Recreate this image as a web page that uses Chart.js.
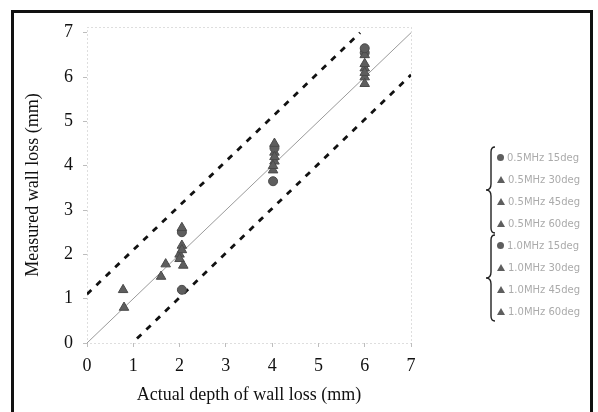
<!DOCTYPE html>
<html>
<head>
<meta charset="utf-8">
<script src="https://cdn.jsdelivr.net/npm/chart.js@4/dist/chart.umd.min.js"></script>
<style>
  html, body { margin: 0; padding: 0; background: #fff; }
  #wrap { position: relative; width: 598px; height: 412px; overflow: hidden; }
  #frame { position: absolute; left: 11px; top: 10px; width: 576px; height: 420px; border: 3px solid #111; border-bottom: none; }
  #chart { position: absolute; left: 0; top: 0; }
  #legend { position: absolute; left: 485px; top: 146px; width: 110px; }
  .grp { position: relative; padding-left: 12px; }
  .grp svg { position: absolute; left: 0; top: 0; }
  .row { height: 22px; display: flex; align-items: center; font: 10px "DejaVu Sans", sans-serif; color: #ababab; white-space: nowrap; }
  .mk { width: 8px; margin-right: 3px; display: inline-block; }
  .mk.c { height: 7px; width: 7px; border-radius: 50%; background: #5e5e5e; }
  .mk.t { width: 0; height: 0; border-left: 4px solid transparent; border-right: 4px solid transparent; border-bottom: 7px solid #5e5e5e; }
</style>
</head>
<body>
<div id="wrap">
  <canvas id="chart" width="598" height="412"></canvas>
  <div id="frame"></div>
  <div id="legend"></div>
</div>
<script>
/* measured vs actual wall loss — scatter with y=x and +/- band */
const INK = '#111', MARK = '#5e5e5e', FAINT = '#bdbdbd';

const xTicks = [0, 1, 2, 3, 4, 5, 6, 7];
const yTicks = [0, 1, 2, 3, 4, 5, 6, 7];

// reference lines (end points of each line, in mm)
const idealLine = [[0, 0], [7, 7]];
const upperBand = [[0, 1.1], [5.9, 7]];
const lowerBand = [[1.08, 0.1], [7, 6.05]];

// series labels (group 1 / group 2) and marker shape
const labels = [
  '0.5MHz  15deg', '0.5MHz  30deg', '0.5MHz  45deg', '0.5MHz  60deg',
  '1.0MHz  15deg', '1.0MHz  30deg', '1.0MHz  45deg', '1.0MHz  60deg'
];
const shapes = ['circle', 'triangle', 'triangle', 'triangle', 'circle', 'triangle', 'triangle', 'triangle'];

// measured points [actual, measured] per series
const s1 = [[2.05, 1.2], [4.02, 3.65], [6.0, 6.65]];
const s2 = [[0.8, 0.8], [2.05, 2.1], [4.05, 4.2], [6.0, 6.1]];
const s3 = [[0.78, 1.2], [1.6, 1.5], [2.05, 2.6], [4.05, 4.5], [6.0, 6.5]];
const s4 = [[1.7, 1.78], [2.0, 1.9], [4.02, 4.0], [6.0, 5.85]];
const s5 = [[2.05, 2.5], [4.05, 4.4], [6.0, 6.55]];
const s6 = [[2.05, 2.2], [4.02, 3.9], [6.0, 6.0]];
const s7 = [[2.08, 1.75], [4.05, 4.1], [6.0, 6.3]];
const s8 = [[2.0, 2.0], [4.05, 4.3], [6.0, 6.2]];
const series = [s1, s2, s3, s4, s5, s6, s7, s8];

const pts = a => a.map(([x, y]) => ({ x, y }));

const datasets = [
  { type: 'line', data: pts(idealLine), borderColor: '#9a9a9a', borderWidth: 1, pointRadius: 0, order: 3 },
  { type: 'line', data: pts(upperBand), borderColor: INK, borderWidth: 2.8, borderDash: [6, 7], pointRadius: 0, order: 3 },
  { type: 'line', data: pts(lowerBand), borderColor: INK, borderWidth: 2.8, borderDash: [6, 7], pointRadius: 0, order: 3 },
  ...series.map((s, i) => ({
    type: 'scatter', label: labels[i], data: pts(s), pointStyle: shapes[i],
    pointRadius: shapes[i] === 'circle' ? 4.5 : 5.5, backgroundColor: MARK, borderColor: '#4a4a4a', borderWidth: 1, order: 1,
  })),
];

const dottedBox = {
  id: 'dottedBox',
  beforeDatasetsDraw(c) {
    const { left, right, top, bottom } = c.chartArea, g = c.ctx;
    g.save();
    g.strokeStyle = FAINT; g.lineWidth = 1; g.setLineDash([1, 3]);
    g.strokeRect(left + 0.5, top + 0.5, right - left, bottom - top);
    g.restore();
  },
};

const serif = { family: '"Liberation Serif", "Times New Roman", serif', size: 18 };

new Chart(document.getElementById('chart'), {
  type: 'scatter',
  data: { datasets },
  plugins: [dottedBox],
  options: {
    responsive: false, animation: false,
    layout: { padding: { left: 22, top: 27, right: 187, bottom: 0 } },
    plugins: { legend: { display: false }, tooltip: { enabled: false } },
    scales: {
      x: {
        type: 'linear', min: 0, max: 7,
        afterBuildTicks: s => { s.ticks = xTicks.map(v => ({ value: v })); },
        afterFit: s => { s.height = 69; },
        grid: { drawOnChartArea: false, tickLength: 4, color: FAINT },
        border: { display: false },
        ticks: { color: INK, font: serif, padding: 8 },
        title: { display: true, text: 'Actual depth of wall loss (mm)', color: INK, font: serif, padding: { top: 2, bottom: 6 } },
      },
      y: {
        type: 'linear', min: 0, max: 7.13,
        afterBuildTicks: s => { s.ticks = yTicks.map(v => ({ value: v })); },
        afterFit: s => { s.width = 65; },
        grid: { drawOnChartArea: false, tickLength: 4, color: FAINT },
        border: { display: false },
        ticks: { color: INK, font: serif, padding: 10 },
        title: { display: true, text: 'Measured wall loss (mm)', color: INK, font: serif, padding: { top: 0, bottom: 0 } },
      },
    },
  },
});

/* legend with two braces */
function brace(h) {
  const m = h / 2;
  return `<svg width="12" height="${h}"><path d="M10 1 Q6 1 6 6 L6 ${m - 6} Q6 ${m} 1 ${m} Q6 ${m} 6 ${m + 6} L6 ${h - 6} Q6 ${h - 1} 10 ${h - 1}" fill="none" stroke="#222" stroke-width="1.4"/></svg>`;
}
const lg = document.getElementById('legend');
[[0, 4], [4, 8]].forEach(([a, b]) => {
  const rows = labels.slice(a, b).map((t, k) =>
    `<div class="row"><span class="mk ${shapes[a + k] === 'circle' ? 'c' : 't'}"></span>${t}</div>`).join('');
  lg.insertAdjacentHTML('beforeend', `<div class="grp">${brace((b - a) * 22)}${rows}</div>`);
});
</script>
</body>
</html>
